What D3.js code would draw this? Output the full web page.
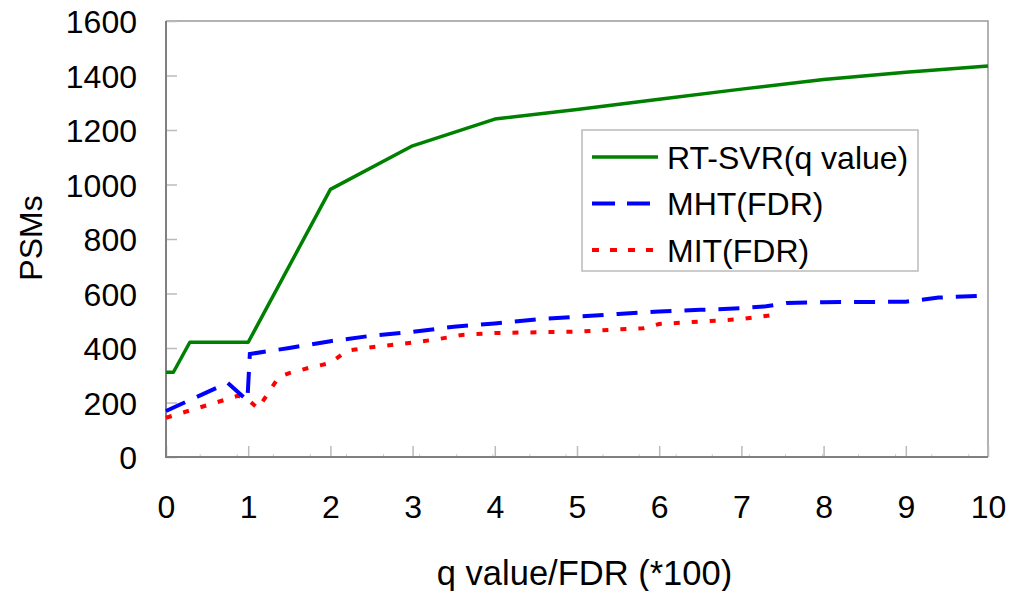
<!DOCTYPE html>
<html><head><meta charset="utf-8">
<script src="https://cdn.jsdelivr.net/npm/d3@7"></script>
<style>body{margin:0;background:#fff}svg{display:block}text{font-family:"Liberation Sans",Arial,sans-serif;fill:#000}</style>
</head><body>
<svg id="c" width="1015" height="591"></svg>
<script>
const xTicks = [0,1,2,3,4,5,6,7,8,9,10];
const yTicks = [0,200,400,600,800,1000,1200,1400,1600];
const xMinorTicks = [0.41,0.86,1.3,1.75,2.19,2.64,3.08,3.53,3.97,4.42,4.86,5.31,5.75,6.2,6.64,7.09,7.53,7.98,8.42,8.87,9.31,9.76];
const seriesNames = ["RT-SVR(q value)","MHT(FDR)","MIT(FDR)"];
const rtsvr = [[0,311],[0.09,311],[0.29,421],[1,421],[2,982],[3,1142],[4,1240],[5,1275],[6,1313],[7,1350],[8,1385],[9,1412],[10,1435]];
const mht = [[0,169],[0.75,272],[0.99,207],[1.02,378],[1.5,400],[2,425],[2.5,445],[3,459],[3.5,478],[4,490],[4.5,505],[5,515],[5.5,525],[6,534],[6.5,540],[7,546],[7.3,553],[7.55,565],[8,568],[9,570],[9.4,585],[10,593]];
const mit = [[0,144],[0.88,225],[1.0,210],[1.12,178],[1.37,293],[1.5,308],[1.75,328],[2.0,345],[2.2,390],[2.5,403],[3,420],[3.3,432],[3.6,448],[4,455],[5,460],[5.5,468],[5.8,472],[6,488],[6.4,495],[7,506],[7.38,521]];

const svg = d3.select("#c");
svg.append("rect").attr("width",1015).attr("height",591).attr("fill","#fff");
const L=166,R=988,T=21,B=457;
const x = d3.scaleLinear().domain([0,10]).range([L,R]);
const y = d3.scaleLinear().domain([0,1600]).range([B,T]);
const FS = 32;

// frame top/right
svg.append("path").attr("d",`M${L},${T}H${R}V${B}`).attr("fill","none").attr("stroke","#999").attr("stroke-width",1.5);

// y axis
const ya = svg.append("g").attr("transform",`translate(${L},0)`)
  .call(d3.axisLeft(y).tickValues(yTicks).tickSize(-11).tickPadding(0).tickFormat(d3.format("d")));
ya.select(".domain").remove();
ya.selectAll(".tick line").attr("stroke","#bbb").attr("stroke-width",1.5);
ya.selectAll(".tick text").attr("x",-29).attr("font-size",FS).attr("font-family","Liberation Sans, Arial, sans-serif").attr("fill","#000").attr("dy","0.36em");

// x axis major
const xa = svg.append("g").attr("transform",`translate(0,${B})`)
  .call(d3.axisBottom(x).tickValues(xTicks).tickSize(-11).tickPadding(0).tickFormat(d3.format("d")));
xa.select(".domain").remove();
xa.selectAll(".tick line").attr("stroke","#bbb").attr("stroke-width",1.5);
xa.selectAll(".tick text").attr("y",61).attr("dy",0).attr("font-size",FS).attr("font-family","Liberation Sans, Arial, sans-serif").attr("fill","#000");

// x axis minor
const xm = svg.append("g").attr("transform",`translate(0,${B})`)
  .call(d3.axisBottom(x).tickValues(xMinorTicks).tickSize(-3).tickFormat(""));
xm.select(".domain").remove();
xm.selectAll(".tick line").attr("stroke","#ccc").attr("stroke-width",1);

// left/bottom axis lines
svg.append("path").attr("d",`M${L},${T}V${B}H${R}`).attr("fill","none").attr("stroke","#808080").attr("stroke-width",2);

// lines
const line = d3.line().x(d=>x(d[0])).y(d=>y(d[1]));
svg.append("path").datum(mit).attr("d",line).attr("fill","none").attr("stroke","#ff0000").attr("stroke-width",4).attr("stroke-dasharray","6,12");
svg.append("path").datum(mht).attr("d",line).attr("fill","none").attr("stroke","#0000ff").attr("stroke-width",4).attr("stroke-dasharray","21,13");
svg.append("path").datum(rtsvr).attr("d",line).attr("fill","none").attr("stroke","#008000").attr("stroke-width",3.5).attr("stroke-linejoin","round");

// legend
const lg = svg.append("g");
lg.append("rect").attr("x",582).attr("y",130).attr("width",336).attr("height",141).attr("fill","#fff").attr("stroke","#bbb").attr("stroke-width",1.5);
const styles = [{c:"#008000",w:3.5,da:null},{c:"#0000ff",w:4,da:"23,12"},{c:"#ff0000",w:4,da:"7,11"}];
const rowY = [157,203.5,250];
seriesNames.forEach((n,i)=>{
  const l = lg.append("line").attr("x1",592).attr("x2",658).attr("y1",rowY[i]).attr("y2",rowY[i])
    .attr("stroke",styles[i].c).attr("stroke-width",styles[i].w);
  if(styles[i].da) l.attr("stroke-dasharray",styles[i].da);
  lg.append("text").attr("x",667).attr("y",rowY[i]+11.5).attr("font-size",FS).text(n);
});

// titles
svg.append("text").attr("x",584.5).attr("y",585).attr("text-anchor","middle").attr("font-size",34.5).text("q value/FDR (*100)");
svg.append("text").attr("transform","translate(42,238) rotate(-90)").attr("text-anchor","middle").attr("font-size",FS).text("PSMs");
</script>
</body></html>
